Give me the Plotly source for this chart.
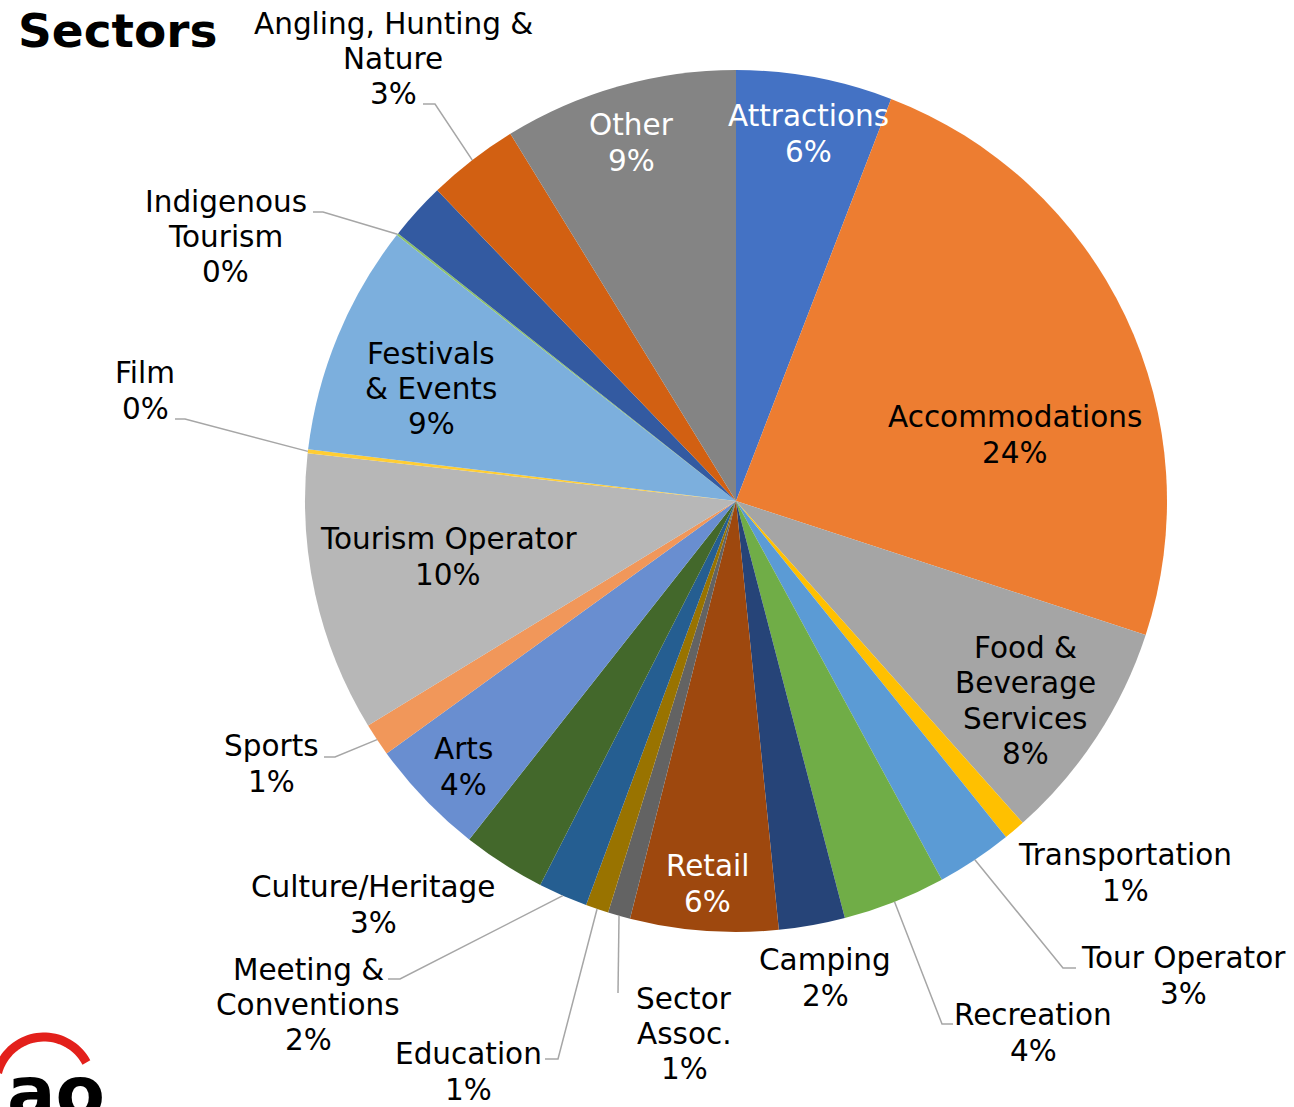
import numpy as np
import plotly.graph_objects as go

# ---------------- data ----------------
sectors = [
    "Attractions", "Accommodations", "Food & Beverage Services", "Transportation",
    "Tour Operator", "Recreation", "Camping", "Retail", "Sector Assoc.", "Education",
    "Meeting & Conventions", "Culture/Heritage", "Arts", "Sports", "Tourism Operator",
    "Film", "Festivals & Events", "Indigenous Tourism", "Unlabelled",
    "Angling, Hunting & Nature", "Other",
]
shares = [5.86, 24.17, 8.39, 0.81, 2.85, 3.86, 2.48, 5.54, 0.84, 0.86,
          1.85, 3.12, 4.42, 1.24, 10.48, 0.15, 8.67, 0.08, 2.15, 3.42, 8.77]
label_text = [
    "Attractions", "Accommodations", "Food &<br>Beverage<br>Services", "Transportation",
    "Tour Operator", "Recreation", "Camping", "Retail", "Sector<br>Assoc.", "Education",
    "Meeting &<br>Conventions", "Culture/Heritage", "Arts", "Sports", "Tourism Operator",
    "Film", "Festivals<br>& Events", "Indigenous<br>Tourism", None,
    "Angling, Hunting &<br>Nature", "Other",
]
colors = [
    "#4472C4", "#ED7D31", "#A5A5A5", "#FFC000", "#5B9BD5", "#70AD47",
    "#264478", "#9E480E", "#636363", "#997300", "#255E91", "#43682B",
    "#698ED0", "#F1975A", "#B7B7B7", "#FFCD33", "#7CAFDD", "#8CC168",
    "#335AA1", "#D26012", "#848484",
]

# ---------------- layout constants (pixels) ----------------
W, H = 1294, 1107
CX, CY, R = 736, 501, 431
FONT = "DejaVu Sans, Verdana, sans-serif"
FS = 29.5
LS = 35.3
LEADER = "#A6A6A6"

def X(px):
    return px / W

def Y(py):
    return 1 - py / H

# label centres and colours (layout)
label_pos = {
    "Attractions": (808, 134, "white"),
    "Accommodations": (1015, 435, "black"),
    "Food & Beverage Services": (1025, 701, "black"),
    "Transportation": (1125, 873, "black"),
    "Tour Operator": (1183, 976, "black"),
    "Recreation": (1033, 1033, "black"),
    "Camping": (825, 978, "black"),
    "Retail": (707, 884, "white"),
    "Sector Assoc.": (684, 1034, "black"),
    "Education": (468, 1072, "black"),
    "Meeting & Conventions": (308, 1005, "black"),
    "Culture/Heritage": (374, 905, "black"),
    "Arts": (463, 767, "black"),
    "Sports": (271, 764, "black"),
    "Tourism Operator": (448, 557, "black"),
    "Film": (145, 391, "black"),
    "Festivals & Events": (431, 389, "black"),
    "Indigenous Tourism": (226, 237, "black"),
    "Angling, Hunting & Nature": (393, 59, "black"),
    "Other": (631, 143, "white"),
}
# leader-line points on the label side (slice side is computed from the data)
leader_pts = {
    "Angling, Hunting & Nature": [(423, 104), (435, 104)],
    "Indigenous Tourism": [(313, 212), (323, 212)],
    "Film": [(175, 419), (185, 419)],
    "Sports": [(324, 757), (335, 757)],
    "Meeting & Conventions": [(388, 979), (400, 979)],
    "Education": [(545, 1059), (558, 1059)],
    "Sector Assoc.": [(618, 993)],
    "Recreation": [(953, 1024), (942, 1024)],
    "Tour Operator": [(1076, 968), (1063, 968)],
}

total = sum(shares)
fig = go.Figure()
fig.add_trace(go.Pie(
    labels=sectors, values=shares, sort=False, direction="clockwise", rotation=0,
    marker=dict(colors=colors, line=dict(width=0)),
    textinfo="none", showlegend=False, hoverinfo="label+percent",
    domain=dict(x=[X(CX - R), X(CX + R)], y=[Y(CY + R), Y(CY - R)]),
))

annotations = []
shapes = []
cum = 0.0
for name, v, txt in zip(sectors, shares, label_text):
    mid = (cum + v / 2) / total * 2 * np.pi
    cum += v
    if txt is None:
        continue
    pct = int(round(v / total * 100))
    lx, ly, col = label_pos[name]
    lines = txt.split("<br>") + [f"{pct}%"]
    n = len(lines)
    for i, line in enumerate(lines):
        annotations.append(dict(
            x=X(lx), y=Y(ly + (i - (n - 1) / 2) * LS), xref="paper", yref="paper",
            xanchor="center", yanchor="middle", text=line, showarrow=False,
            font=dict(family=FONT, size=FS, color=col),
        ))
    if name in leader_pts:
        rx = CX + R * np.sin(mid)
        ry = CY - R * np.cos(mid)
        pts = leader_pts[name] + [(rx, ry)]
        path = "M " + " L ".join(f"{X(px):.5f},{Y(py):.5f}" for px, py in pts)
        shapes.append(dict(type="path", path=path, xref="paper", yref="paper",
                           line=dict(color=LEADER, width=1.5)))

# title
annotations.append(dict(
    x=X(16), y=Y(30), xref="paper", yref="paper", xanchor="left", yanchor="middle",
    text="<b>Sectors</b>", showarrow=False,
    font=dict(family=FONT, size=47, color="black"),
))

# logo fragment (bottom-left)
th = np.linspace(np.radians(165), np.radians(28), 40)
arc = [(44 + 48 * np.cos(t), 1085 - 48 * np.sin(t)) for t in th]
shapes.append(dict(type="path", xref="paper", yref="paper",
                   path="M " + " L ".join(f"{X(px):.5f},{Y(py):.5f}" for px, py in arc),
                   line=dict(color="#E3201B", width=9)))
annotations.append(dict(
    x=X(5), y=Y(1092), xref="paper", yref="paper", xanchor="left", yanchor="middle",
    text="<b>ao</b>", showarrow=False,
    font=dict(family="DejaVu Sans", size=72, color="black"),
))

fig.update_layout(
    width=W, height=H, margin=dict(l=0, r=0, t=0, b=0),
    paper_bgcolor="white", plot_bgcolor="white",
    annotations=annotations, shapes=shapes,
)
fig.write_html("out.html", config={"displayModeBar": False},
               post_script="document.body.style.margin='0px';")
